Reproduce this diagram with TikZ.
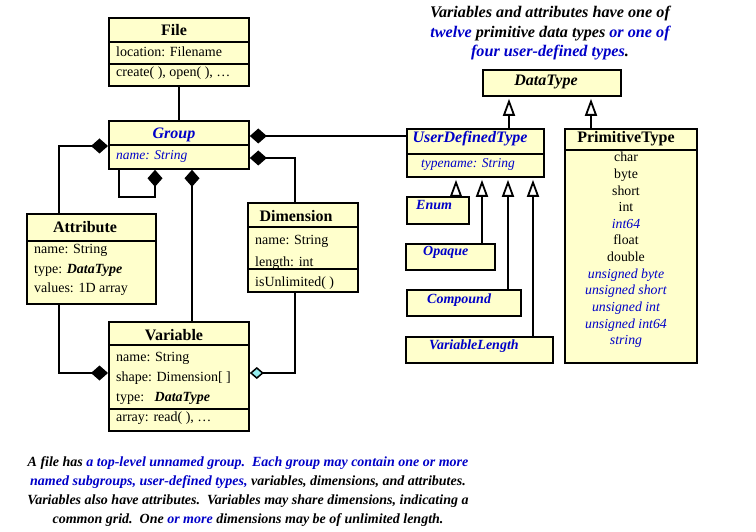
\documentclass[tikz,border=0pt]{standalone}
\usepackage{fontspec}
\setmainfont{Liberation Serif}
\usetikzlibrary{arrows.meta}
\definecolor{ylw}{RGB}{255,255,204}
\definecolor{tblue}{RGB}{0,0,200}
\definecolor{dcyan}{RGB}{150,238,240}
\newcommand{\bl}[1]{{\color{tblue}#1}}
\tikzset{
 box/.style={draw, line width=1.8pt, fill=ylw, inner sep=0pt, anchor=north west},
 div/.style={line width=1.8pt},
 conn/.style={line width=1.8pt},
 comp/.style={-{Diamond[length=17pt,width=15pt]}},
 aggr/.style={-{Diamond[length=14pt,width=12pt,fill=dcyan,line width=1.5pt]}},
 gen/.style={-{Triangle[length=17pt,width=12pt,fill=white,line width=1.8pt]}, shorten >=2pt},
 ttl/.style={anchor=base, inner sep=0pt, font=\fontsize{16}{18}\selectfont\bfseries},
 btl/.style={anchor=base, inner sep=0pt, font=\fontsize{16}{18}\selectfont\bfseries\itshape, text=tblue},
 txt/.style={anchor=base west, inner sep=0pt, font=\fontsize{14}{17}\selectfont},
 itx/.style={anchor=base west, inner sep=0pt, font=\fontsize{13.5}{17}\selectfont\itshape, text=tblue},
 sub/.style={anchor=base west, inner sep=0pt, font=\fontsize{14}{17}\selectfont\bfseries\itshape, text=tblue},
 ptx/.style={anchor=base, inner sep=0pt, font=\fontsize{13.8}{17}\selectfont},
 note/.style={anchor=base, inner sep=0pt, font=\fontsize{16.2}{18}\selectfont\bfseries\itshape},
 bnote/.style={anchor=base, inner sep=0pt, font=\fontsize{14}{18}\selectfont\bfseries\itshape},
}
\begin{document}
\begin{tikzpicture}[x=1pt,y=-1pt]
\useasboundingbox (0,0) rectangle (756,532);

% ---------- boxes ----------
\node[box, minimum width=140pt, minimum height=68pt] (file) at (108,17) {};
\node[box, minimum width=140pt, minimum height=48pt] (group) at (108,120) {};
\node[box, minimum width=129pt, minimum height=90pt] (attr) at (26,213) {};
\node[box, minimum width=110pt, minimum height=89pt] (dim) at (247,202) {};
\node[box, minimum width=140pt, minimum height=109pt] (var) at (108,321) {};
\node[box, minimum width=138pt, minimum height=26pt] (dt) at (482,69) {};
\node[box, minimum width=137pt, minimum height=48pt] (udt) at (406,128) {};
\node[box, minimum width=132pt, minimum height=234pt] (prim) at (564,128) {};
\node[box, minimum width=62pt, minimum height=27pt] (enum) at (406,196) {};
\node[box, minimum width=89pt, minimum height=26pt] (opq) at (405,243) {};
\node[box, minimum width=114pt, minimum height=26pt] (cmp) at (406,289) {};
\node[box, minimum width=147pt, minimum height=26pt] (vlen) at (405,336) {};

% ---------- dividers ----------
\draw[div] (file.west |- 0,42) -- (file.east |- 0,42);
\draw[div] (file.west |- 0,64) -- (file.east |- 0,64);
\draw[div] (group.west |- 0,145) -- (group.east |- 0,145);
\draw[div] (attr.west |- 0,241) -- (attr.east |- 0,241);
\draw[div] (dim.west |- 0,227) -- (dim.east |- 0,227);
\draw[div] (dim.west |- 0,269) -- (dim.east |- 0,269);
\draw[div] (var.west |- 0,345) -- (var.east |- 0,345);
\draw[div] (var.west |- 0,409) -- (var.east |- 0,409);
\draw[div] (udt.west |- 0,154) -- (udt.east |- 0,154);
\draw[div] (prim.west |- 0,150) -- (prim.east |- 0,150);

% ---------- texts ----------
\node[ttl] (fileT) at (174,36) {File};
\node[txt] (fileA) at (116,57) {location: Filename};
\node[txt] (fileO) at (116,77) {create( ), open( ), \dots};

\node[btl] (groupT) at (174,139) {Group};
\node[itx] (groupA) at (116,160) {name: String};

\node[ttl] (attrT) at (85,233) {Attribute};
\node[txt] (attrA1) at (34,254) {name: String};
\node[txt] (attrA2) at (34,273) {type: \textbf{\textit{DataType}}};
\node[txt] (attrA3) at (34,293) {values: 1D array};

\node[ttl] (dimT) at (296,222) {Dimension};
\node[txt] (dimA1) at (255,244) {name: String};
\node[txt] (dimA2) at (255,266) {length: int};
\node[txt] (dimO) at (255,287) {isUnlimited( )};

\node[ttl] (varT) at (174,340) {Variable};
\node[txt] (varA1) at (116,361) {name: String};
\node[txt] (varA2) at (116,381) {shape: Dimension[ ]};
\node[txt] (varA3) at (116,401) {type:\ \ \ \textbf{\textit{DataType}}};
\node[txt] (varO) at (116,421) {array: read( ), \dots};

\node[ttl, font=\fontsize{16}{18}\selectfont\bfseries\itshape] (dtT) at (546,86) {DataType};
\node[btl] (udtT) at (470,143) {UserDefinedType};
\node[itx] (udtA) at (421,168) {typename: String};
\node[ttl] (primT) at (626,143) {PrimitiveType};

\node[sub] (enumT) at (416,210) {Enum};
\node[sub] (opqT) at (423,256) {Opaque};
\node[sub] (cmpT) at (427,303) {Compound};
\node[sub] (vlenT) at (429,349) {VariableLength};

\foreach \t/\s [count=\i from 0] in {char/, byte/, short/, int/, int64/\itshape\color{tblue}, float/, double/,
  {unsigned byte}/\itshape\color{tblue}, {unsigned short}/\itshape\color{tblue},
  {unsigned int}/\itshape\color{tblue}, {unsigned int64}/\itshape\color{tblue}, string/\itshape\color{tblue}}
  \node[ptx] (p\i) at (626,162+16.6*\i) {\s\t};

% ---------- notes ----------
\node[note] (n1) at (550,18) {Variables and attributes have one of};
\node[note] (n2) at (550,38) {\bl{twelve} primitive data types \bl{or one of}};
\node[note] (n3) at (550,57) {\bl{four user-defined types}.};

\node[bnote] (b1) at (248,466) {A file has \bl{a top-level unnamed group.\ \ Each group may contain one or more}};
\node[bnote] (b2) at (248,485) {\bl{named subgroups, user-defined types,} variables, dimensions, and attributes.};
\node[bnote] (b3) at (248,504) {Variables also have attributes.\ \ Variables may share dimensions, indicating a};
\node[bnote] (b4) at (248,523) {common grid.\ \ One \bl{or more} dimensions may be of unlimited length.};

% ---------- connectors ----------
\coordinate (ga) at (59,146);
\coordinate (av) at (59,373);
\coordinate (sl1) at (119,197);
\coordinate (sl2) at (155,197);
\coordinate (gv) at (192,0);
\coordinate (gd) at (295,158);
\coordinate (gu) at (0,136);

\draw[conn] (file.south) -- (group.north);
\draw[conn, comp] (attr.north -| ga) |- (group.west |- ga);
\draw[conn, comp] (group.south -| sl1) -- (sl1) -- (sl2) -- (group.south -| sl2);
\draw[conn, comp] (var.north -| gv) -- (group.south -| gv);
\draw[conn, comp] (dim.north -| gd) |- (group.east |- gd);
\draw[conn, comp] (udt.west |- gu) -- (group.east |- gu);
\draw[conn, comp] (attr.south -| av) |- (var.west |- av);
\draw[line width=1.3pt, aggr] (dim.south -| gd) |- (var.east |- av);

\draw[conn, gen] (udt.north -| 509,0) -- (dt.south -| 509,0);
\draw[conn, gen] (prim.north -| 591,0) -- (dt.south -| 591,0);
\draw[conn, gen] (enum.north -| 456,0) -- (udt.south -| 456,0);
\draw[conn, gen] (opq.north -| 482,0) -- (udt.south -| 482,0);
\draw[conn, gen] (cmp.north -| 508,0) -- (udt.south -| 508,0);
\draw[conn, gen] (vlen.north -| 533,0) -- (udt.south -| 533,0);
\end{tikzpicture}
\end{document}
